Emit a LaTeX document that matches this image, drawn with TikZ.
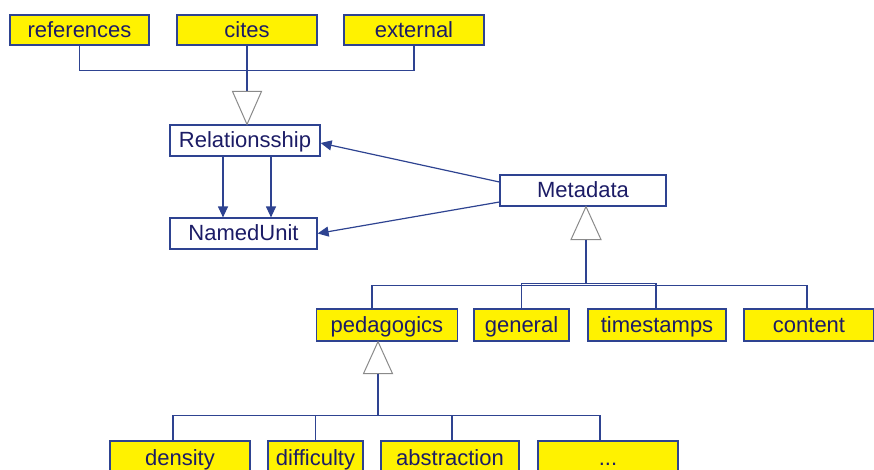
\documentclass[tikz,border=0pt]{standalone}
\usepackage{fontspec}
\setmainfont{Liberation Sans}
\usetikzlibrary{arrows.meta}
\definecolor{navy}{HTML}{2E4391}
\definecolor{ink}{HTML}{1C1C66}
\definecolor{trigray}{HTML}{8A8A8A}
\tikzset{
  box/.style={draw=navy, line width=1.2pt, inner sep=0pt, text=ink,
    text height=16pt, text depth=2pt,
    font=\fontsize{22}{26}\selectfont},
  leaf/.style={box, fill=yellow},
  cls/.style={box, fill=white},
  link/.style={draw=navy, line width=1.2pt},
  assoc/.style={link, -{Triangle[length=11pt,width=10pt]}},
  tri/.style={draw=trigray, fill=white, line width=1pt, line join=miter}
}
\begin{document}
\begin{tikzpicture}[x=1pt, y=-1pt]
\useasboundingbox (0,0) rectangle (874,469);

% top row
\node[leaf, minimum width=139pt, minimum height=30pt] (references) at (79.5,30) {references};
\node[leaf, minimum width=140pt, minimum height=30pt] (cites) at (247,30) {cites};
\node[leaf, minimum width=140pt, minimum height=30pt] (external) at (414,30) {external};

% core classes
\node[cls, minimum width=150pt, minimum height=31pt] (rel) at (245,140.5) {Relationsship};
\node[cls, minimum width=147pt, minimum height=31pt] (named) at (243.5,233.5) {NamedUnit};
\node[cls, minimum width=166pt, minimum height=31pt] (meta) at (583,190.5) {Metadata};

% metadata kinds
\node[leaf, minimum width=141pt, minimum height=32pt] (ped) at (387,325) {pedagogics};
\node[leaf, minimum width=95pt, minimum height=32pt] (gen) at (521.5,325) {general};
\node[leaf, minimum width=138pt, minimum height=32pt] (ts) at (657,325) {timestamps};
\node[leaf, minimum width=130pt, minimum height=32pt] (content) at (809,325) {content};

% pedagogic kinds
\node[leaf, minimum width=140pt, minimum height=34pt] (density) at (180,458) {density};
\node[leaf, minimum width=95pt, minimum height=34pt] (difficulty) at (315.5,458) {difficulty};
\node[leaf, minimum width=138pt, minimum height=34pt] (abstraction) at (450,458) {abstraction};
\node[leaf, minimum width=140pt, minimum height=34pt] (dots) at (608,458) {...};

% generalisation: relationship kinds
\coordinate (t1) at (cites.south |- rel.north);
\draw[link] (references.south) -- ++(0,25) -| (external.south);
\draw[link] (cites.south) -- ++(0,46);
\draw[tri] (t1) -- ++(-14.5,-33) -- ++(29,0) -- cycle;

% associations
\draw[assoc] ([xshift=-22pt]rel.south) -- ([xshift=-20.5pt]named.north);
\draw[assoc] ([xshift=26pt]rel.south) -- ([xshift=27.5pt]named.north);
\draw[assoc] ([yshift=8.5pt]meta.west) -- ([yshift=-2.5pt]rel.east);
\draw[assoc] ([yshift=-11.5pt]meta.west) -- (named.east);

% generalisation: metadata kinds
\coordinate (t2) at ([xshift=3pt]meta.south);
\draw[tri] (t2) -- ++(-15,33) -- ++(30,0) -- cycle;
\draw[link] ([yshift=-33pt]t2) -- ++(0,44);
\draw[link] ([xshift=-15pt]ped.north) -- ++(0,-23) -| ([xshift=-2pt]content.north);
\draw[link] (gen.north) -- ++(0,-25) -| ([xshift=-1pt]ts.north);

% generalisation: pedagogic kinds
\coordinate (t3) at ([xshift=-9pt]ped.south);
\draw[tri] (t3) -- ++(-14.5,32) -- ++(29,0) -- cycle;
\draw[link] ([yshift=-32pt]t3) -- ++(0,42);
\draw[link] ([xshift=-7pt]density.north) -- ++(0,-25) -| ([xshift=-8pt]dots.north);
\draw[link] (difficulty.north) -- ++(0,-25);
\draw[link] ([xshift=2pt]abstraction.north) -- ++(0,-25);
\end{tikzpicture}
\end{document}
